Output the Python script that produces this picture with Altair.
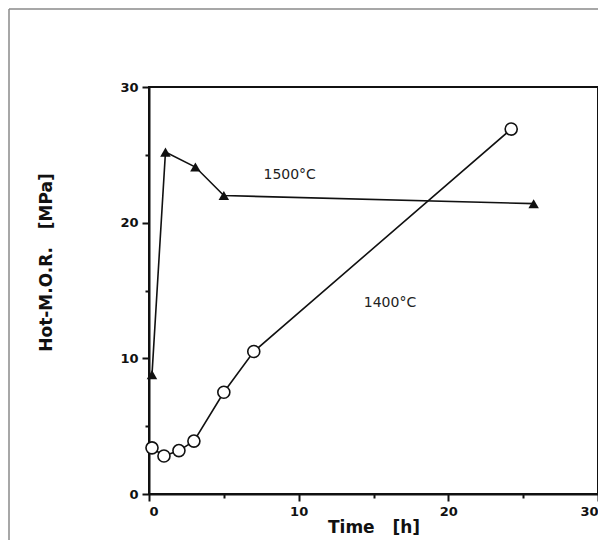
import altair as alt
import pandas as pd

# 1500 °C series (filled triangles)
t1500 = [0.2, 1.1, 3.1, 5.0, 25.7]
m1500 = [8.8, 25.2, 24.1, 22.0, 21.4]
# 1400 °C series (open circles)
t1400 = [0.2, 1.0, 2.0, 3.0, 5.0, 7.0, 24.2]
m1400 = [3.4, 2.8, 3.2, 3.9, 7.5, 10.5, 26.9]
# annotations
lab_text = ["1500°C", "1400°C"]
lab_x = [9.4, 16.1]
lab_y = [23.5, 14.1]
ticks = [0, 5, 10, 15, 20, 25, 30]

df1500 = pd.DataFrame({"t": t1500, "m": m1500, "i": range(len(t1500))})
df1400 = pd.DataFrame({"t": t1400, "m": m1400, "i": range(len(t1400))})
dflab = pd.DataFrame({"t": lab_x, "m": lab_y, "txt": lab_text})

tick_size = {"condition": {"test": "datum.value % 10 === 0", "value": 7}, "value": 4}
lab_expr = "datum.value % 10 === 0 ? datum.label : ''"
NB = "\u00a0"

xenc = alt.X("t:Q", scale=alt.Scale(domain=[0, 30], nice=False, zero=True),
             axis=alt.Axis(values=ticks, labelExpr=lab_expr, tickSize=tick_size,
                           title="Time" + NB * 3 + "[h]", titlePadding=1, labelPadding=4))
yenc = alt.Y("m:Q", scale=alt.Scale(domain=[0, 30], nice=False, zero=True),
             axis=alt.Axis(values=ticks, labelExpr=lab_expr, tickSize=tick_size,
                           title="Hot-M.O.R." + NB * 3 + "[MPa]", titlePadding=64,
                           labelPadding=4, titleY=175))

line_a = alt.Chart(df1500).mark_line(color="#111", strokeWidth=1.6).encode(
    x=xenc, y=yenc, order="i:Q")
pts_a = alt.Chart(df1500).mark_point(shape="triangle-up", filled=True, color="#111",
                                     size=110, opacity=1).encode(x="t:Q", y="m:Q")
line_b = alt.Chart(df1400).mark_line(color="#111", strokeWidth=1.6).encode(
    x="t:Q", y="m:Q", order="i:Q")
pts_b = alt.Chart(df1400).mark_point(shape="circle", filled=True, fill="white",
                                     stroke="#111", strokeWidth=1.6, size=145,
                                     opacity=1).encode(x="t:Q", y="m:Q")
labels = alt.Chart(dflab).mark_text(font="DejaVu Sans", fontSize=14, color="#222").encode(
    x="t:Q", y="m:Q", text="txt:N")

one = pd.DataFrame({"a": [0]})
frame_top = alt.Chart(one).mark_rule(color="#8a8a8a", strokeWidth=1.5).encode(
    x=alt.value(-140), x2=alt.value(460), y=alt.value(-78))
frame_left = alt.Chart(one).mark_rule(color="#8a8a8a", strokeWidth=1.5).encode(
    x=alt.value(-140), y=alt.value(-78), y2=alt.value(470))

chart = alt.layer(frame_top, frame_left, line_a, line_b, pts_a, pts_b, labels).properties(
    width=449, height=407,
    autosize=alt.AutoSizeParams(type="none"),
    padding={"left": 141, "top": 79, "right": 0, "bottom": 46},
    background="white",
).configure_view(stroke="#111", strokeWidth=2).configure_axis(
    grid=False, domainColor="#111", domainWidth=2, tickColor="#111", tickWidth=2,
    labelFont="DejaVu Sans", labelFontWeight="bold", labelFontSize=13, labelColor="#111",
    titleFont="DejaVu Sans", titleFontWeight="bold", titleFontSize=17, titleColor="#111",
)

chart.save("out.html", embed_options={"renderer": "svg", "actions": False})
